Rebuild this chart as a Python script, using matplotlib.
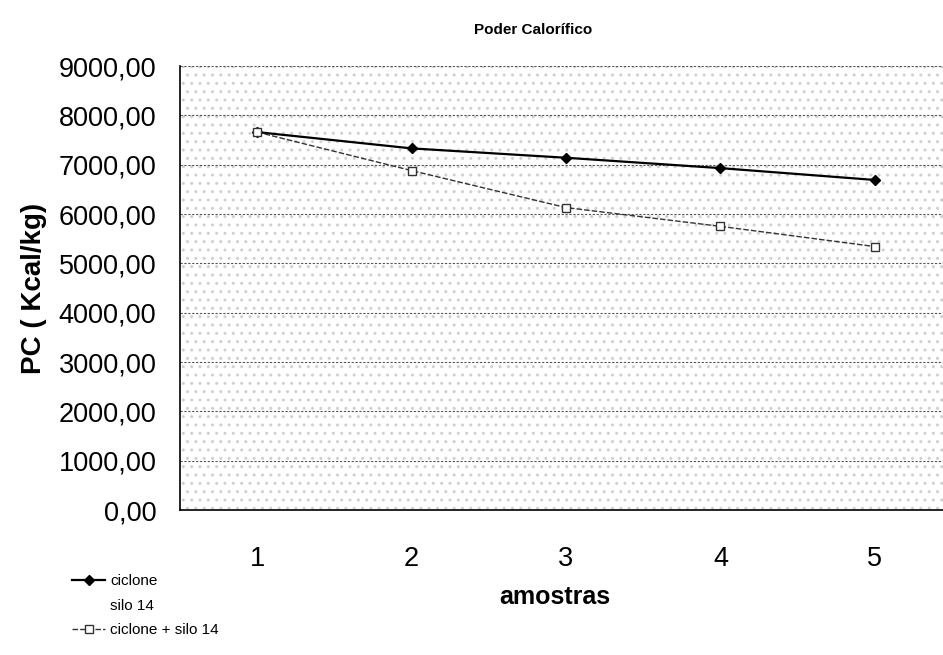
import numpy as np
import matplotlib.pyplot as plt
from matplotlib.lines import Line2D
from matplotlib.ticker import FuncFormatter

# valores
amostras = [1, 2, 3, 4, 5]
ciclone_silo14 = [7660, 7330, 7140, 6930, 6690]
ciclone_mais_silo14 = [7660, 6880, 6130, 5750, 5340]
yticks = np.arange(0, 9001, 1000)

plt.rcParams['font.family'] = ['Liberation Sans', 'DejaVu Sans']

fig = plt.figure(figsize=(9.43, 6.55), dpi=100)
ax = fig.add_axes([180 / 943, 145 / 655, 772 / 943, 444 / 655])

# fundo pontilhado (imitando a impressao)
ax.add_patch(plt.Rectangle((0, 0), 1, 1, transform=ax.transAxes, facecolor='white',
                           edgecolor='#d0d0d0', hatch='..', linewidth=0, zorder=0))

l1, = ax.plot(amostras, ciclone_silo14, color='black', linewidth=1.6, marker='D',
              markersize=5, zorder=3)
l2, = ax.plot(amostras, ciclone_mais_silo14, color='#333333', linewidth=1.0,
              linestyle=(0, (4, 1.5)), marker='s', markersize=6, markerfacecolor='white',
              markeredgecolor='#333333', zorder=3)

ax.set_xlim(0.5, 5.5)
ax.set_ylim(0, 9000)
ax.set_xticks(amostras)
ax.set_yticks(yticks)
ax.yaxis.set_major_formatter(FuncFormatter(lambda v, p: f'{v:.2f}'.replace('.', ',')))
ax.tick_params(axis='both', length=0, labelsize=19.5)
ax.tick_params(axis='y', pad=17)
ax.tick_params(axis='x', pad=26)
ax.grid(axis='y', color='#555555', linestyle=(0, (2, 1.5)), linewidth=0.8)
ax.set_axisbelow(True)
for s in ['top', 'right']:
    ax.spines[s].set_visible(False)
ax.spines['left'].set_linewidth(1.2)
ax.spines['bottom'].set_linewidth(1.2)

ax.set_ylabel('PC ( Kcal/kg)', fontsize=20, fontweight='bold', labelpad=8)
fig.text(533 / 943, 1 - 30 / 655, 'Poder Calorífico', fontsize=11, fontweight='bold',
         ha='center', va='center')
fig.text(555 / 943, 1 - 597 / 655, 'amostras', fontsize=18, fontweight='bold',
         ha='center', va='center')

# a legenda original quebra o nome da primeira serie em duas linhas
vazio = Line2D([], [], linestyle='none')
fig.legend([l1, vazio, l2], ['ciclone', 'silo 14', 'ciclone + silo 14'],
           loc='lower left', bbox_to_anchor=(58 / 943, 4 / 655), frameon=False,
           fontsize=11, handlelength=2.2, handletextpad=0.3, labelspacing=0.7)

fig.savefig('out.png', dpi=100)
